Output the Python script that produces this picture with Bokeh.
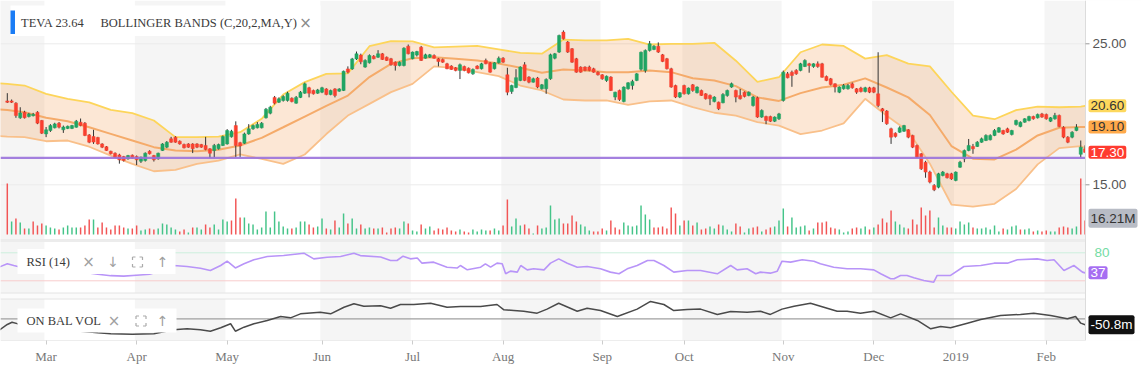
from bokeh.plotting import figure
from bokeh.models import Range1d, FixedTicker, Label
from bokeh.embed import file_html
from bokeh.resources import INLINE

# ---------------- data ----------------
first_idx = -9  # trading-day index (0 = 1 Mar 2018)
opens = [20.95, 20.95, 20.79, 19.75, 20.15, 19.84, 19.9, 20.15, 19.56, 18.61,
         18.85, 19.04, 19.37, 18.9, 19.0, 19.0, 19.08, 19.44, 19.37, 18.54,
         18.42, 18.36, 17.9, 17.7, 17.38, 17.24, 17.12, 17.0, 16.84, 17.1,
         17.0, 16.67, 16.72, 17.38, 17.07, 16.84, 17.43, 17.67, 18.26, 18.38,
         18.09, 17.86, 17.9, 17.9, 17.9, 17.86, 17.79, 17.55, 17.43, 17.55,
         17.79, 17.9, 18.4, 19.2, 17.99, 17.95, 18.61, 18.97, 19.04, 19.04,
         19.75, 20.08, 21.2, 20.86, 20.98, 20.98, 21.14, 20.79, 21.2, 21.5,
         21.88, 21.69, 21.5, 21.57, 21.8, 21.4, 21.8, 21.64, 21.69, 23.22,
         23.22, 23.93, 24.2, 23.35, 23.65, 24.12, 24.05, 24.29, 24.05, 23.94,
         23.7, 23.46, 23.46, 24.83, 23.94, 24.2, 24.76, 23.98, 24.05, 24.17,
         23.94, 23.89, 23.58, 23.42, 23.3, 23.11, 23.39, 23.27, 22.87, 23.42,
         23.23, 23.82, 23.65, 23.23, 23.65, 23.98, 22.8, 21.62, 21.9, 22.4,
         23.51, 22.64, 22.28, 22.57, 21.81, 21.81, 22.52, 23.98, 24.41, 25.83,
         25.12, 24.65, 23.94, 23.35, 23.35, 23.35, 23.23, 22.99, 22.8, 22.4,
         22.64, 21.22, 21.69, 20.9, 21.81, 22.04, 22.4, 23.2, 23.1, 24.53,
         24.6, 24.83, 24.22, 23.94, 23.23, 22.04, 21.22, 22.04, 21.45, 22.09,
         21.53, 21.69, 21.45, 21.34, 20.9, 20.86, 20.82, 21.33, 21.93, 21.69,
         21.33, 21.57, 21.33, 20.62, 21.17, 19.8, 19.84, 19.84, 19.51, 19.68,
         20.98, 22.87, 22.99, 23.11, 23.11, 23.39, 23.58, 23.39, 23.58, 23.58,
         22.68, 22.52, 22.16, 21.57, 21.81, 21.81, 22.16, 21.81, 21.86, 21.62,
         21.88, 21.88, 21.45, 20.39, 20.23, 18.97, 18.66, 18.73, 18.8, 18.9,
         18.5, 17.79, 17.2, 16.6, 15.9, 14.95, 14.83, 15.66, 15.78, 15.78,
         15.31, 16.25, 16.84, 17.43, 17.72, 17.72, 18.02, 18.14, 18.19, 18.5,
         18.73, 18.85, 18.97, 18.57, 19.28, 19.13, 19.44, 19.56, 19.84, 19.75,
         20.03, 19.99, 19.51, 19.68, 19.92, 19.08, 18.38, 18.38, 18.85, 17.16, 17.55]
highs = [21.5, 21.05, 20.86, 20.5, 20.25, 20.1, 20.1, 20.22, 19.6, 19.1,
         19.3, 19.4, 19.45, 19.2, 19.2, 19.25, 19.6, 19.7, 19.45, 18.6,
         18.9, 18.4, 17.95, 17.75, 17.42, 17.3, 17.2, 17.05, 17.12, 17.15,
         17.08, 17.0, 17.3, 17.45, 17.12, 17.28, 17.95, 18.1, 18.4, 18.45,
         18.15, 17.92, 17.95, 17.95, 17.95, 17.9, 18.4, 17.6, 17.9, 17.92,
         18.5, 18.95, 18.9, 19.5, 18.05, 18.7, 19.3, 19.28, 19.45, 19.45,
         20.45, 20.6, 21.3, 21.2, 21.35, 21.6, 21.2, 21.3, 21.65, 22.25,
         21.95, 21.75, 21.8, 21.95, 21.85, 21.75, 21.85, 21.85, 23.1, 23.4,
         24.0, 24.45, 24.3, 23.9, 24.25, 24.2, 24.55, 24.35, 24.1, 24.0,
         23.75, 23.75, 24.75, 24.95, 24.45, 24.5, 24.85, 24.3, 24.28, 24.25,
         24.0, 23.95, 23.65, 23.48, 23.35, 23.6, 23.45, 23.32, 23.25, 23.48,
         23.65, 23.95, 23.7, 23.7, 24.1, 24.05, 23.3, 22.1, 23.2, 23.4,
         23.7, 22.7, 22.6, 22.65, 22.15, 22.55, 24.3, 24.35, 25.65, 25.95,
         25.2, 24.7, 24.0, 23.4, 23.4, 23.45, 23.3, 23.05, 22.85, 22.75,
         22.7, 21.6, 21.75, 21.98, 22.28, 22.45, 22.92, 24.45, 24.6, 25.2,
         24.9, 25.1, 24.28, 24.0, 23.3, 22.1, 21.58, 22.1, 21.9, 22.15,
         21.98, 21.75, 21.5, 21.4, 21.28, 20.9, 21.5, 21.75, 22.25, 21.75,
         21.8, 21.62, 21.62, 21.3, 21.25, 20.35, 19.9, 19.9, 19.85, 20.1,
         23.1, 23.0, 23.1, 23.2, 23.65, 23.9, 23.65, 23.62, 23.75, 23.65,
         22.75, 22.58, 22.2, 21.98, 22.15, 22.15, 22.25, 21.86, 21.95, 21.95,
         21.95, 21.95, 24.4, 20.45, 20.3, 19.05, 18.72, 19.15, 19.25, 18.95,
         18.55, 17.85, 17.25, 16.7, 16.0, 15.05, 15.85, 15.98, 15.85, 15.85,
         15.95, 16.7, 17.5, 18.25, 17.9, 18.1, 18.35, 18.58, 18.58, 18.95,
         19.1, 18.9, 19.05, 18.9, 19.62, 19.5, 19.72, 19.9, 19.9, 20.05,
         20.1, 20.05, 19.8, 20.1, 19.98, 19.15, 18.45, 18.8, 19.3, 18.14, 17.8]
lows = [20.8, 20.8, 19.75, 19.68, 19.7, 19.78, 19.85, 19.3, 18.6, 18.38,
        18.75, 19.0, 19.0, 18.68, 18.95, 18.95, 19.05, 19.15, 18.45, 17.95,
        17.9, 17.85, 17.6, 17.4, 17.15, 16.9, 16.5, 16.65, 16.78, 16.85,
        16.4, 16.55, 16.65, 17.15, 16.65, 16.78, 17.4, 17.6, 17.98, 17.98,
        17.85, 17.58, 17.62, 17.25, 17.6, 17.62, 17.45, 16.9, 16.95, 17.5,
        17.75, 17.85, 18.35, 16.95, 16.95, 17.9, 18.55, 18.9, 19.0, 19.0,
        19.7, 20.0, 20.7, 20.8, 20.9, 20.9, 20.85, 20.75, 21.15, 21.45,
        21.2, 21.4, 21.45, 21.5, 21.35, 21.35, 21.2, 21.6, 21.65, 22.9,
        23.15, 23.85, 23.55, 23.3, 23.6, 23.9, 24.0, 23.85, 23.78, 23.45,
        23.1, 23.4, 23.4, 24.25, 23.9, 24.1, 23.78, 23.95, 24.0, 23.95,
        23.4, 23.65, 23.2, 23.15, 23.05, 22.5, 23.05, 22.9, 22.8, 23.2,
        23.18, 23.55, 22.95, 23.18, 23.6, 23.65, 21.35, 21.45, 21.85, 22.35,
        22.35, 22.2, 22.25, 21.85, 21.75, 21.45, 22.45, 23.9, 24.35, 25.3,
        24.35, 23.65, 22.95, 22.95, 23.05, 23.05, 22.95, 22.75, 22.45, 22.3,
        21.65, 21.0, 20.95, 20.85, 21.75, 21.75, 22.35, 23.1, 22.95, 24.45,
        24.55, 24.35, 23.7, 23.18, 21.88, 21.15, 21.15, 21.4, 21.4, 21.6,
        21.48, 21.3, 21.05, 20.65, 20.85, 20.3, 20.78, 21.25, 21.88, 20.85,
        21.05, 21.2, 21.28, 20.55, 19.75, 19.75, 19.3, 19.45, 19.45, 19.6,
        20.9, 22.55, 21.95, 22.8, 23.05, 23.35, 22.95, 23.3, 23.3, 22.6,
        22.35, 22.05, 21.55, 21.5, 21.75, 21.75, 21.82, 21.45, 21.55, 21.55,
        21.5, 21.5, 20.5, 19.45, 19.25, 17.9, 18.35, 18.68, 18.75, 18.3,
        17.6, 16.9, 16.05, 15.5, 15.1, 14.55, 14.75, 15.6, 15.45, 15.35,
        15.25, 16.2, 16.6, 17.38, 17.2, 17.68, 17.98, 18.1, 18.15, 18.45,
        18.7, 18.55, 18.68, 18.5, 19.2, 19.08, 19.4, 19.5, 19.62, 19.7,
        19.75, 19.62, 19.45, 19.62, 19.08, 18.3, 17.95, 18.3, 18.8, 16.93, 17.25]
closes = [20.85, 20.85, 19.91, 20.10, 19.75, 20.03, 20.0, 19.37, 18.66, 18.9,
          19.2, 19.32, 19.09, 19.1, 19.15, 19.2, 19.51, 19.2, 18.5, 18.02,
          18.03, 17.9, 17.67, 17.43, 17.2, 16.96, 16.77, 16.72, 17.07, 16.9,
          16.77, 16.96, 17.24, 17.2, 16.77, 17.24, 17.9, 18.02, 18.02, 18.02,
          17.9, 17.62, 17.67, 17.55, 17.67, 17.67, 17.5, 17.24, 17.79, 17.86,
          18.42, 18.85, 18.8, 17.79, 17.76, 18.61, 18.97, 19.2, 19.28, 19.37,
          20.36, 20.5, 20.79, 21.1, 21.26, 21.5, 20.9, 21.2, 21.57, 22.16,
          21.5, 21.45, 21.73, 21.88, 21.4, 21.69, 21.33, 21.8, 23.05, 22.99,
          23.93, 24.29, 23.72, 23.82, 24.17, 23.94, 24.29, 23.89, 23.82, 23.51,
          23.46, 23.7, 24.69, 24.29, 24.41, 24.45, 23.82, 24.22, 24.22, 23.98,
          23.75, 23.7, 23.23, 23.18, 23.1, 23.51, 23.11, 22.94, 23.18, 23.23,
          23.58, 23.58, 22.99, 23.65, 23.98, 23.7, 21.57, 22.04, 22.6, 23.35,
          22.4, 22.28, 22.52, 21.93, 22.09, 22.47, 24.22, 24.29, 25.59, 25.35,
          24.41, 23.7, 22.99, 22.99, 23.11, 23.11, 22.99, 22.8, 22.52, 22.7,
          21.69, 21.57, 21.05, 21.93, 22.23, 22.33, 22.87, 24.4, 24.53, 25.0,
          24.83, 24.41, 23.75, 23.23, 21.93, 21.22, 21.53, 21.45, 21.86, 21.69,
          21.93, 21.34, 21.1, 21.1, 21.22, 20.39, 21.4, 21.69, 22.17, 21.22,
          21.1, 21.26, 21.57, 21.22, 19.8, 20.27, 19.56, 19.51, 19.8, 20.03,
          22.99, 22.59, 22.75, 22.87, 23.58, 23.82, 23.46, 23.58, 23.39, 22.63,
          22.4, 22.11, 21.93, 21.93, 22.04, 22.04, 21.88, 21.57, 21.62, 21.88,
          21.57, 21.57, 20.62, 20.23, 19.33, 18.38, 18.43, 19.04, 19.2, 18.38,
          17.67, 16.96, 16.13, 15.9, 15.19, 14.64, 15.78, 15.9, 15.5, 15.42,
          15.9, 16.6, 17.43, 17.79, 17.55, 18.02, 18.26, 18.5, 18.5, 18.85,
          19.04, 18.61, 18.73, 18.85, 19.56, 19.44, 19.68, 19.84, 19.68, 19.99,
          19.8, 19.68, 19.75, 19.92, 19.13, 18.38, 18.02, 18.73, 19.08, 17.67, 17.30]
volumes = [51, 13, 16, 12, 6, 6, 13, 9, 11, 9, 7, 6, 5, 7, 9, 7, 7, 7, 9, 15,
           15, 7, 12, 7, 5, 9, 9, 7, 6, 6, 9, 4, 5, 6, 5, 6, 11, 10, 7, 5,
           3, 5, 2, 7, 7, 5, 10, 7, 10, 5, 15, 13, 14, 36, 17, 17, 11, 10, 5, 7,
           23, 7, 23, 13, 8, 6, 6, 7, 13, 13, 10, 7, 8, 16, 6, 5, 14, 7, 21, 11,
           16, 6, 10, 6, 7, 6, 6,
           7, 2, 6, 7, 6, 13, 11, 4, 3, 10, 6, 8, 4, 6, 5, 7, 4, 3, 5, 3,
           2, 5, 3, 5, 4, 4, 6, 4, 9, 35, 8, 16, 9, 10, 6, 1, 9, 6, 7, 29,
           15, 16, 11, 11, 19, 13, 10, 8, 4, 3, 3, 6, 4, 14, 7, 5, 12, 9, 8, 9,
           29, 20, 15, 7, 7, 8, 6, 27, 21, 9, 14, 14, 9, 12, 5, 6, 8, 6, 10, 9,
           5, 3, 11, 8, 2, 6, 7, 8,
           3, 5, 7, 8, 14, 26, 8, 17, 7, 8, 9, 4, 6, 12, 12, 13, 7, 6, 5, 2,
           3, 6, 7, 6, 8, 5, 7, 10, 16, 12, 24, 13, 10, 7, 6, 15, 10, 27, 19, 24,
           7, 17, 9, 7, 7, 6, 13, 10, 12, 7, 6, 6, 7, 5, 9, 3, 6, 5, 8, 9,
           5, 5, 6, 3, 4, 3, 4, 3, 3, 7, 8, 7, 6, 8, 56, 14]

bb_idx = [-11, -9, -5, 0, 5, 10, 15, 20, 25, 30, 35, 40, 45, 50, 55, 60, 65, 70, 75, 80, 85,
          90, 95, 100, 105, 110, 115, 120, 125, 130, 135, 140, 145, 150, 155, 160, 165,
          170, 175, 180, 185, 190, 195, 200, 205, 210, 215, 220, 225, 230, 235, 240, 241]
bb_upper = [22.2, 22.16, 22.04, 21.45, 21.1, 20.85, 20.31, 20.08, 19.56, 18.38, 18.38,
            18.42, 18.73, 19.68, 21.4, 22.28, 22.87, 22.9, 24.83, 25.19, 25.17,
            24.75, 24.8, 24.85, 24.6, 24.35, 24.3, 25.3, 25.24, 25.24, 25.35,
            24.95, 25.0, 25.0, 25.07, 23.8, 22.3, 22.63, 24.4, 24.95, 24.85,
            23.95, 24.2, 23.6, 23.4, 21.6, 19.9, 19.65, 20.3, 20.55, 20.5, 20.55, 20.6]
bb_mid = [20.35, 20.31, 20.15, 19.75, 19.51, 19.08, 18.61, 18.14, 17.67, 17.43, 17.38,
          17.48, 17.79, 18.33, 19.08, 19.84, 20.6, 21.33, 22.64, 23.58, 23.98,
          24.05, 23.94, 23.82, 23.6, 23.3, 22.94, 23.18, 23.11, 22.99, 22.99,
          23.11, 22.99, 22.56, 22.4, 22.0, 21.2, 20.95, 21.5, 21.9, 22.1,
          22.55, 21.9, 21.2, 19.95, 17.75, 16.85, 16.8, 17.5, 18.5, 19.05, 19.1, 19.1]
bb_lower = [18.45, 18.42, 18.38, 18.09, 18.14, 17.7, 17.07, 16.48, 15.96, 16.06, 16.48,
            16.72, 17.15, 16.84, 16.48, 17.15, 18.6, 19.91, 20.74, 21.57, 22.16,
            23.4, 23.27, 22.99, 22.71, 22.04, 21.69, 21.05, 20.98, 20.98, 20.67,
            20.91, 20.98, 20.51, 20.11, 19.9, 19.45, 19.2, 18.6, 18.85, 19.35,
            21.1, 19.9, 18.8, 16.5, 13.6, 13.45, 13.65, 14.7, 16.45, 17.6, 17.75, 17.6]

rsi_idx = [-11, -9, -7.5, -5, -2, 0, 3, 6, 9, 12, 15, 18, 21, 24, 27, 29.6, 32.7, 35.8, 38.1, 40.5, 42,
           43.9, 45.9, 48.2, 51.3, 55.1, 59.8, 62.1, 65.2, 68.3, 71.4, 72.9, 77.6, 79.9, 81.4, 82.8,
           84.5, 86.1, 87.2, 89.9, 93, 95.4, 96.1, 97.7, 100.8, 101.9, 103.1, 104.6, 105.8, 106.6,
           107.7, 109.3, 110.1, 111.6, 113.1, 115.5, 117, 118.9, 120.9, 123.2, 125.5, 128.6, 130.9,
           132.9, 134.8, 137.1, 139.5, 141, 143.3, 145.6, 148.7, 151.8, 155.7, 158.8, 160.3, 162.6,
           164.6, 165.7, 168, 169.6, 170.7, 172.7, 175.4, 178.1, 179.6, 182.7, 185.8, 188.9, 192,
           193.6, 195.9, 196.7, 198.2, 199.7, 201.3, 203.6, 205.9, 206.7, 209.8, 212.9, 216.8,
           219.9, 223, 225.3, 229.9, 232.2, 233.8, 236.1, 238.4, 240.4, 241]
rsi_val = [49, 56.4, 52.8, 47, 44, 40, 42, 41, 38, 34, 31, 30, 32, 34, 42, 52.8, 50.6, 47, 42, 52.8, 62,
           47.6, 56.4, 65, 72, 74.2, 79.2, 67, 70.6, 72, 79, 74, 71, 63.5, 63.5, 72.8, 67, 69, 57.8, 60, 49.2,
           47.6, 52.8, 43.5, 49.2, 56.4, 49.2, 57.8, 56.4, 35, 40.7, 38.6, 52.8, 43.5, 45.7, 43.5, 57.8, 67,
           57.8, 49.2, 50.6, 45.7, 38.6, 35, 45.7, 52.8, 63.5, 63.5, 52.8, 38.6, 42, 42, 35, 52.8, 43.5, 45.7,
           35, 38.6, 36.4, 40.7, 62, 60, 65, 62, 56.4, 49.2, 45.7, 45.7, 43.5, 35, 24.3, 24.3, 31.5, 31.5,
           26.5, 20.7, 17, 31.5, 31.5, 50.6, 52.8, 57.8, 57.8, 65, 67, 63.5, 65, 42, 52.8, 38.6, 37]

obv_idx = [-11, -9, -7.9, -6.7, -3, 0, 4, 8, 12, 15, 20, 25, 29.6, 32.7, 35.8, 38.1, 40.5, 42.8, 43.9, 45.9,
           48.2, 51.3, 54.4, 56.7, 59, 63.6, 66, 69.1, 71.4, 73.7, 77.6, 79.9, 82.2, 85.3, 89.2, 93, 96.1,
           100.8, 104.6, 106.2, 108.5, 110.8, 113.9, 116.2, 118.9, 123.2, 125.5, 128.6, 132.5, 137.1,
           140.2, 143.3, 145.6, 148.7, 151.8, 155.7, 158.8, 162.6, 165.7, 168, 170.7, 173.5, 177.3,
           180.4, 183.5, 185.8, 188.9, 192, 195.9, 198.2, 202.1, 205.2, 207.5, 209.8, 213.7, 216.8,
           221.4, 226, 229.1, 233, 236.9, 238.8, 240, 241]
obv_val = [-99, -48, -29, -41, -60, -75, -90, -105, -118, -127, -130, -127, -93, -85, -93, -105, -76, -42,
           -105, -71, -42, -14, 20, 8, 42, 56, 42, 98, 127, 107, 110, 90, 121, 121, 132, 98, 104, 104,
           121, 76, 70, 64, 48, 82, 132, 64, 90, 70, 20, 82, 147, 121, 70, 79, 82, 37, 62, 56, 64, 37,
           82, 107, 132, 98, 64, 64, 48, 64, 8, 42, -14, -85, -65, -76, -37, -6, 28, 37, 48, 28, 0, 20,
           -37, -50.8]

month_ticks = [0, 21, 42, 64, 85, 106, 129, 148, 171, 192, 211, 232]
month_labels = ["Mar", "Apr", "May", "Jun", "Jul", "Aug", "Sep", "Oct", "Nov", "Dec", "2019", "Feb"]
price_grid = [15, 25]
rsi_levels = [20, 80]
obv_levels = [0]
hline_level = 16.91
last_price = 17.30
last_upper = 20.60
last_mid = 19.10
last_volume = 16.21
last_rsi = 37
last_obv = -50.8
header_symbol = "TEVA"
header_price = "23.64"
header_study = "BOLLINGER BANDS (C,20,2,MA,Y)"

# ---------------- layout ----------------
W, H = 1141, 370
PLOT_R = 1085          # right edge of the plotting area (px)
PLOT_B = 340           # bottom edge of the panels (px)
X0, X1 = -10.578, 254.09
GREEN, RED = "#1fa463", "#f9402f"
VGREEN, VRED = "#45c489", "#f25555"
SERIF = "Liberation Serif"
SANS = "Liberation Sans"

idx = list(range(first_idx, first_idx + len(closes)))
body_top = [max(o, c) for o, c in zip(opens, closes)]
body_bot = [min(o, c) for o, c in zip(opens, closes)]
cand_col = [GREEN if c >= o else RED for o, c in zip(opens, closes)]
prev = [opens[0]] + closes[:-1]
vol_col = [VGREEN if c >= pc else VRED for c, pc in zip(closes, prev)]

p = figure(width=W, height=H, x_range=Range1d(X0, X1), y_range=Range1d(3.957, 28.071),
           output_backend="svg", toolbar_location=None, y_axis_location=None,
           min_border_left=0, min_border_top=0, min_border_right=0, min_border_bottom=H - PLOT_B,
           background_fill_color="white", border_fill_color="white", outline_line_color=None)
p.extra_y_ranges = {"vol": Range1d(-106, 234), "rsi": Range1d(-107.9, 620.6),
                    "obv": Range1d(-183.8, 2696.0), "px": Range1d(PLOT_B, 0)}
p.extra_x_ranges = {"px": Range1d(0, W)}
p.xgrid.visible = False
p.ygrid.visible = False

# month shading (even months grey)
lefts = [X0 - 2] + [month_ticks[i] - 0.4 for i in range(1, len(month_ticks), 2)]
rights = [month_ticks[0] - 0.4] + [(month_ticks[i + 1] - 0.4) if i + 1 < len(month_ticks) else X1 + 2
                                   for i in range(1, len(month_ticks), 2)]
p.quad(left=lefts, right=rights, bottom=PLOT_B, top=0, y_range_name="px",
       fill_color="#f5f5f5", line_color=None)

# panel separators
p.quad(left=0, right=PLOT_R, bottom=241.5, top=238.5, x_range_name="px", y_range_name="px",
       fill_color="#ececec", line_color=None)
p.quad(left=0, right=PLOT_R, bottom=298.5, top=292.5, x_range_name="px", y_range_name="px",
       fill_color="#fbfbfb", line_color=None)
p.segment(x0=[0, 0], x1=[PLOT_R, PLOT_R], y0=[292.5, 298.5], y1=[292.5, 298.5],
          x_range_name="px", y_range_name="px", line_color="#e4e4e4", line_width=1)

# price gridlines
p.segment(x0=[X0] * len(price_grid), x1=[X1] * len(price_grid), y0=price_grid, y1=price_grid,
          line_color="#ececec", line_width=1)

# volume
p.vbar(x=idx, top=volumes, bottom=0, width=0.34, fill_color=vol_col, line_color=None,
       y_range_name="vol")

# bollinger bands
p.varea(x=bb_idx, y1=bb_lower, y2=bb_upper, fill_color="#f29b4e", fill_alpha=0.24)
p.line(bb_idx, bb_lower, line_color="#f9c08a", line_width=1.8)
p.line(bb_idx, bb_mid, line_color="#f5ab6a", line_width=2)
p.line(bb_idx, bb_upper, line_color="#fdd55a", line_width=1.8)

# candles
p.segment(x0=idx, y0=lows, x1=idx, y1=highs, line_color="#333333", line_width=1)
p.vbar(x=idx, top=body_top, bottom=body_bot, width=0.72, fill_color=cand_col,
       line_color=cand_col, line_width=0.5)

# horizontal purple line
p.segment(x0=[X0], x1=[X1], y0=[hline_level], y1=[hline_level], line_color="#9a72dc",
          line_width=2.2, line_alpha=0.9)

# RSI panel
p.segment(x0=[X0, X0], x1=[X1, X1], y0=rsi_levels, y1=rsi_levels, y_range_name="rsi",
          line_color=["#f8cccc", "#ccefdd"], line_width=1)
p.line(rsi_idx, rsi_val, y_range_name="rsi", line_color="#b894f8", line_width=1.6)

# OBV panel
p.segment(x0=[X0], x1=[X1], y0=obv_levels, y1=obv_levels, y_range_name="obv",
          line_color="#a0a0a0", line_width=1.3)
p.line(obv_idx, obv_val, y_range_name="obv", line_color="#4a4a4a", line_width=1.5)

# right margin (price scale area) and axis lines
p.quad(left=PLOT_R, right=W + 5, bottom=PLOT_B + 5, top=-5, x_range_name="px", y_range_name="px",
       fill_color="white", line_color=None)
p.segment(x0=[PLOT_R, 0], x1=[PLOT_R, PLOT_R], y0=[0, PLOT_B], y1=[PLOT_B, PLOT_B],
          x_range_name="px", y_range_name="px", line_color="#dcdcdc", line_width=1)
p.segment(x0=[PLOT_R] * len(price_grid), x1=[PLOT_R + 4] * len(price_grid),
          y0=price_grid, y1=price_grid, x_range_name="px", line_color="#999999", line_width=1)

# header boxes
p.quad(left=[10, 17, 17], right=[320, 175, 176], bottom=[35.5, 273.5, 332], top=[5, 248.5, 308],
       x_range_name="px", y_range_name="px", fill_color="white", line_color=None)
p.quad(left=10, right=14.5, bottom=33.5, top=10, x_range_name="px", y_range_name="px",
       fill_color="#1a7cf5", line_color=None)


def corner_icon(cx, cy, h=5, s=3):
    xs0, ys0, xs1, ys1 = [], [], [], []
    for sx in (-1, 1):
        for sy in (-1, 1):
            x, y = cx + sx * h, cy + sy * h
            xs0 += [x, x]; ys0 += [y, y]
            xs1 += [x - sx * s, x]; ys1 += [y, y - sy * s]
    p.segment(x0=xs0, y0=ys0, x1=xs1, y1=ys1, x_range_name="px", y_range_name="px",
              line_color="#aaaaaa", line_width=1.2)


corner_icon(137, 261.5)
corner_icon(140.5, 320.5)


def txt(x, y, s, font=SERIF, size="12.5px", color="#3a3a3a", align="left", yr="px", **kw):
    p.add_layout(Label(x=x, y=y, x_range_name="px", y_range_name=yr, text=s, text_font=font,
                       text_font_size=size, text_color=color, text_align=align,
                       text_baseline="middle", **kw))


txt(20.5, 22.5, header_symbol)
txt(55, 22.5, header_price)
txt(100, 22.5, header_study)
txt(305, 22, "×", font="DejaVu Sans", size="15px", color="#8a8a8a", align="center")
txt(26, 261.5, "RSI (14)")
txt(88, 261.5, "×", font="DejaVu Sans", size="15px", color="#a0a0a0", align="center")
txt(112.5, 261.5, "↓", font="DejaVu Sans", size="14px", color="#a0a0a0", align="center")
txt(162, 261.5, "↑", font="DejaVu Sans", size="14px", color="#a0a0a0", align="center")
txt(26, 320.5, "ON BAL VOL")
txt(113.5, 320.5, "×", font="DejaVu Sans", size="15px", color="#a0a0a0", align="center")
txt(162, 320.5, "↑", font="DejaVu Sans", size="14px", color="#a0a0a0", align="center")

# price scale labels
for lv in price_grid:
    p.add_layout(Label(x=PLOT_R + 7, y=lv, x_range_name="px", text=f"{lv:.2f}", text_font=SANS,
                       text_font_size="13.5px", text_color="#555555", text_align="left",
                       text_baseline="middle"))


def badge(val, s, yr, bg, fg, dx=3):
    kw = dict(x=PLOT_R + dx, y=val, x_range_name="px", text=s, text_font=SANS,
              text_font_size="13.5px", text_color=fg, text_align="left", text_baseline="middle",
              padding=2, border_radius=2)
    if yr is not None:
        kw["y_range_name"] = yr
    if bg is not None:
        kw["background_fill_color"] = bg
    p.add_layout(Label(**kw))


badge(rsi_levels[1], "80", "rsi", None, "#74dca4", dx=7)
badge(last_upper, f"{last_upper:.2f}", None, "#fdd85d", "#333333")
badge(last_mid, f"{last_mid:.2f}", None, "#ffa94a", "#333333")
badge(last_price, f"{last_price:.2f}", None, "#ff3b30", "white")
badge(last_volume, f"{last_volume:.2f}M", "vol", "#b8bcc5", "#333333")
badge(last_rsi, f"{last_rsi}", "rsi", "#a66ef2", "white")
badge(last_obv, f"{last_obv:.1f}m", "obv", "#111111", "white")

# x axis (month labels)
xa = p.xaxis[0]
xa.ticker = FixedTicker(ticks=month_ticks)
xa.major_label_overrides = {t: l for t, l in zip(month_ticks, month_labels)}
xa.minor_tick_line_color = None
xa.major_tick_out = 4
xa.major_tick_in = 0
xa.major_tick_line_color = "#cccccc"
xa.axis_line_color = None
xa.major_label_text_font = SERIF
xa.major_label_text_font_size = "13px"
xa.major_label_text_color = "#777777"
xa.major_label_standoff = 4

open("out.html", "w").write(file_html(p, INLINE))
